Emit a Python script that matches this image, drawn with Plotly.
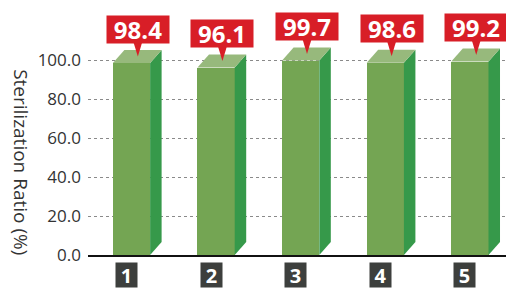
import plotly.graph_objects as go

# ---- data ----
categories = ["1", "2", "3", "4", "5"]
ratios = [98.4, 96.1, 99.7, 98.6, 99.2]
y_ticks = [0, 20, 40, 60, 80, 100]
y_tick_labels = ["0.0", "20.0", "40.0", "60.0", "80.0", "100.0"]
y_title = "Sterilization Ratio (%)"

# ---- style ----
FRONT = "#74a553"
SIDE = "#36994a"
TOP = "#97b97c"
RED = "#d81e27"
FONT = "Open Sans"

W, H = 506, 289
ML, MR, MT, MB = 88, 0, 4, 34
plot_h = H - MT - MB
plot_w = W - ML - MR
px_per_unit = 1.95
y_max = plot_h / px_per_unit
cat_px = 84.6
x_left = -(131.5 - ML) / cat_px
x_right = x_left + plot_w / cat_px

bar_w = 0.44
dx = 11.5 / cat_px          # depth offset in category units
dy = 13 / px_per_unit       # depth offset in value units

xs = list(range(len(categories)))

fig = go.Figure()
fig.add_trace(go.Bar(x=xs, y=ratios, width=bar_w, marker=dict(color=FRONT, line=dict(width=0)),
                     hoverinfo="skip", showlegend=False))

# side and top faces
for x, v in zip(xs, ratios):
    r = x + bar_w / 2
    l = x - bar_w / 2
    fig.add_trace(go.Scatter(x=[r, r + dx, r + dx, r, r], y=[0, dy, v + dy, v, 0],
                             fill="toself", fillcolor=SIDE, mode="lines",
                             line=dict(width=0, color=SIDE), hoverinfo="skip", showlegend=False))
    fig.add_trace(go.Scatter(x=[l, r, r + dx, l + dx, l], y=[v, v, v + dy, v + dy, v],
                             fill="toself", fillcolor=TOP, mode="lines",
                             line=dict(width=0, color=TOP), hoverinfo="skip", showlegend=False))

# callout pointers + value boxes
ptr_len = 13 / px_per_unit
ptr_half = 4.5 / cat_px
for x, v in zip(xs, ratios):
    tx = x + dx * 0.55
    ty = v + dy * 0.5
    fig.add_trace(go.Scatter(x=[tx, tx - ptr_half, tx + ptr_half, tx],
                             y=[ty, ty + ptr_len + 1, ty + ptr_len + 1, ty],
                             fill="toself", fillcolor=RED, mode="lines",
                             line=dict(width=0, color=RED), hoverinfo="skip", showlegend=False))
    fig.add_annotation(x=tx, y=ty, xref="x", yref="y", text=f"<b>{v:.1f}</b>",
                       showarrow=False, yanchor="bottom", yshift=13,
                       font=dict(family=FONT, size=24, color="white"),
                       bgcolor=RED, width=58, height=23, borderpad=2)

# category label boxes
for x, c in zip(xs, categories):
    fig.add_annotation(x=x, y=0, xref="x", yref="paper", text=f"<b>{c}</b>",
                       showarrow=False, yanchor="top", yshift=-7, xshift=-5,
                       font=dict(family=FONT, size=20, color="white"),
                       bgcolor="#3d3f3d", width=17, height=20, borderpad=2)

# y-axis title (reads top-to-bottom)
fig.add_annotation(x=0, y=0.37, xref="paper", yref="paper", text=y_title,
                   showarrow=False, textangle=90, xshift=-67, xanchor="center",
                   yanchor="middle",
                   font=dict(family=FONT, size=19, color="#333333"))

fig.update_layout(
    width=W, height=H,
    margin=dict(l=ML, r=MR, t=MT, b=MB),
    paper_bgcolor="white", plot_bgcolor="white",
    bargap=0,
    xaxis=dict(range=[x_left, x_right], showticklabels=False, showgrid=False,
               zeroline=False, showline=True, linecolor="#111111", linewidth=2,
               fixedrange=True),
    yaxis=dict(range=[0, y_max], tickvals=y_ticks, ticktext=y_tick_labels,
               showgrid=True, gridcolor="#8a8a8a", griddash="dot", gridwidth=1,
               zeroline=False, showline=False, ticks="",
               tickfont=dict(family=FONT, size=17, color="#333333"),
               ticklabelstandoff=6, fixedrange=True),
    font=dict(family=FONT),
)

fig.write_html("out.html", config={"displayModeBar": False},
               post_script="document.body.style.margin='0';document.body.style.overflow='hidden';")
